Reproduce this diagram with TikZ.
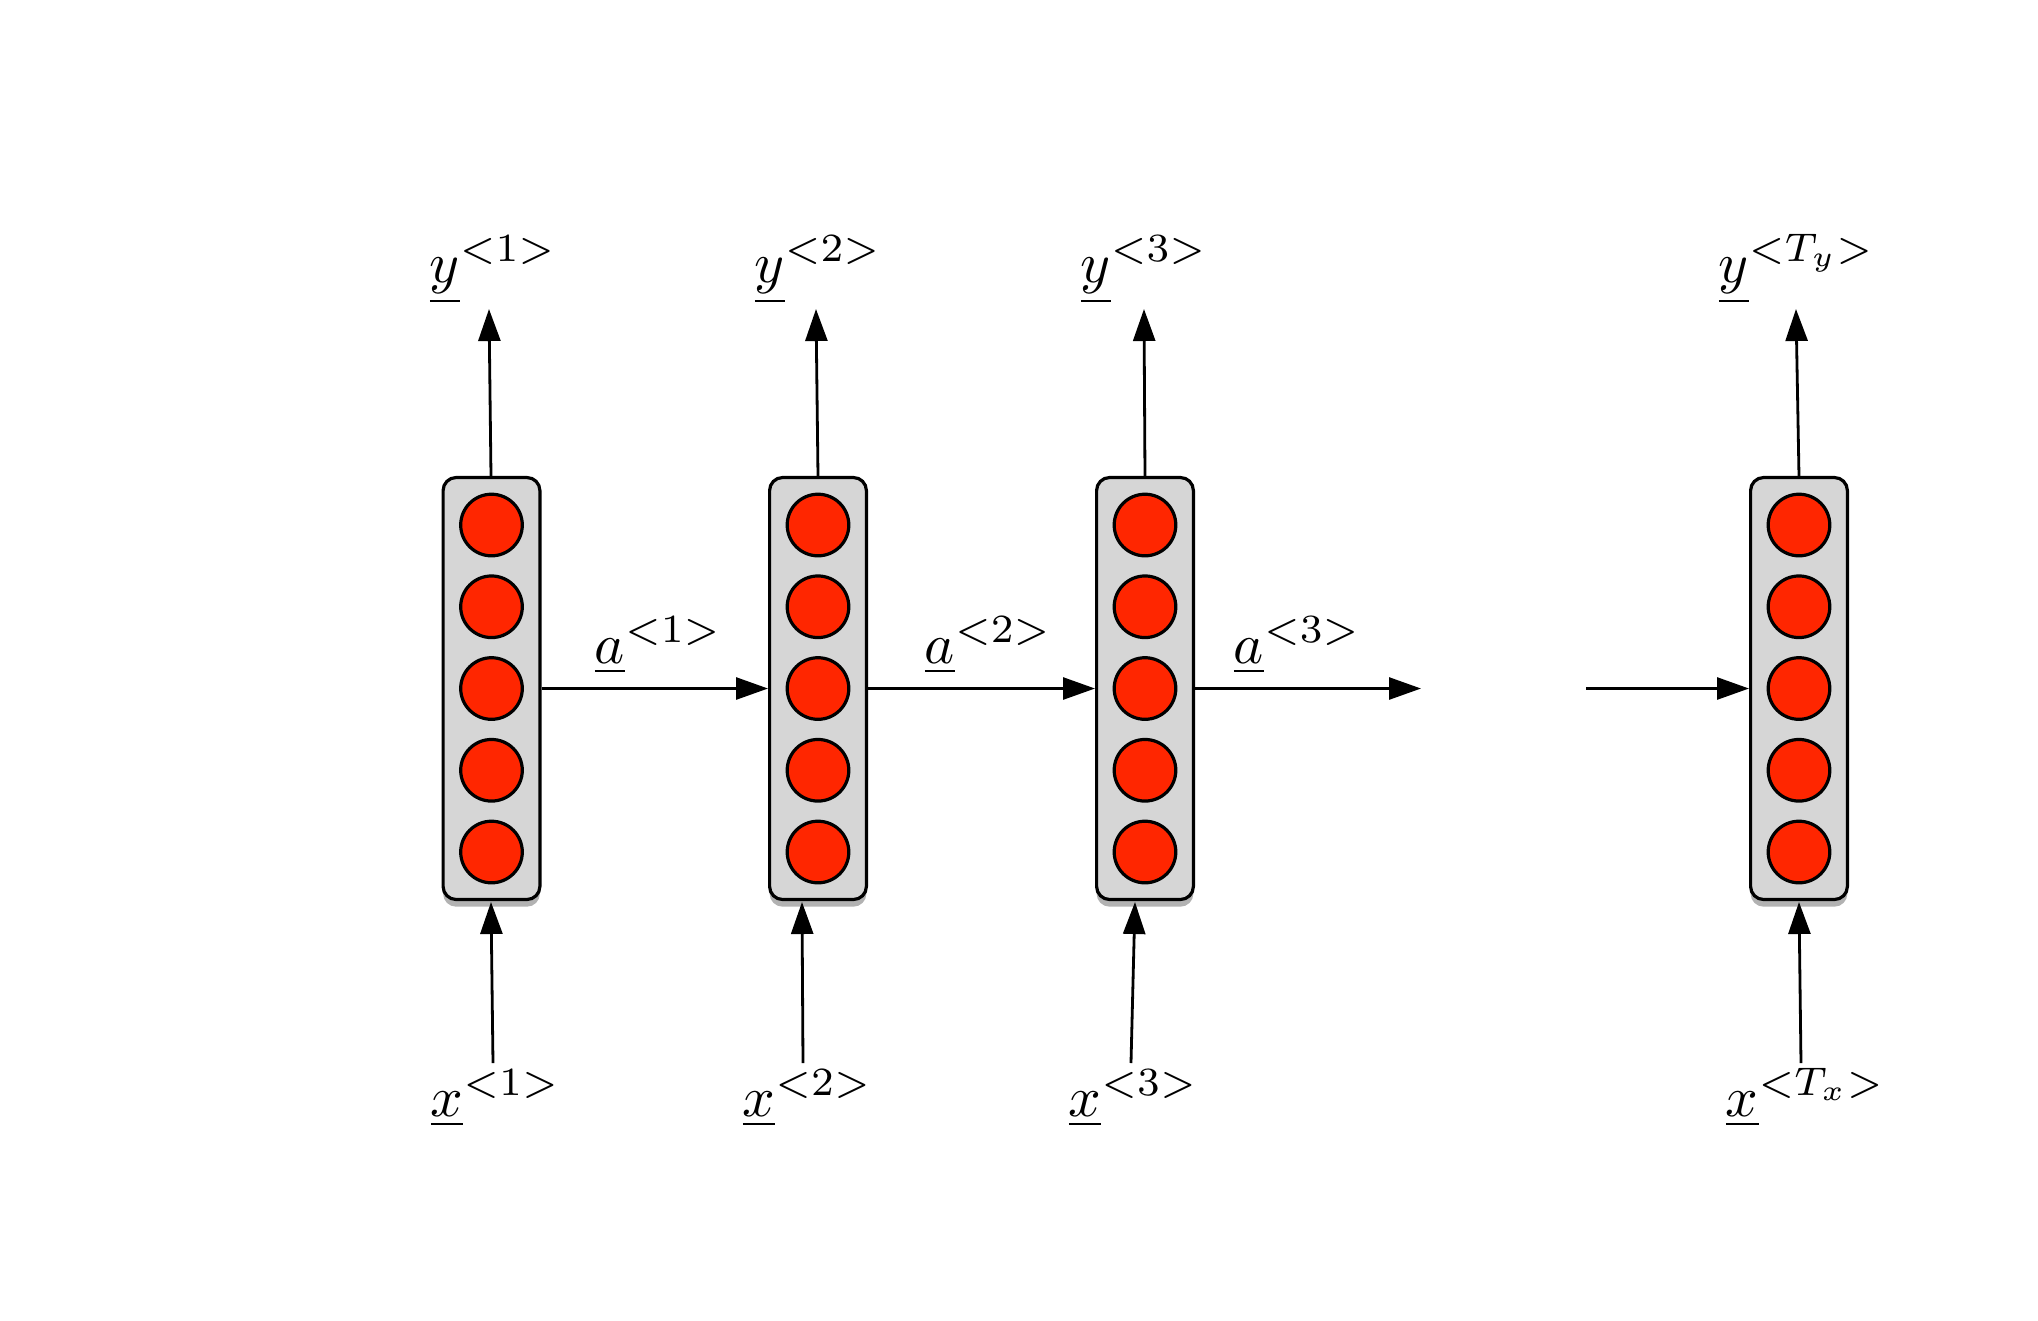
\documentclass[tikz,border=0pt]{standalone}
\usepackage{graphicx}
\usetikzlibrary{arrows.meta,shadows}
\definecolor{cellred}{RGB}{255,38,0}
\definecolor{boxgray}{RGB}{214,214,214}
\newcommand{\lbltext}[1]{\scalebox{1.43}{$#1$}}
\begin{document}
\begin{tikzpicture}[x=0.25pt,y=-0.25pt,
  cellbox/.style={draw=black,line width=0.8pt,fill=boxgray,rounded corners=3.25pt,
    minimum width=24.2pt,minimum height=105.5pt,inner sep=0pt,
    drop shadow={shadow xshift=0pt,shadow yshift=-1.8pt,opacity=0.3,fill=black}},
  neuron/.style={circle,draw=black,line width=0.8pt,fill=cellred,minimum size=15.4pt,inner sep=0pt},
  lbl/.style={anchor=base west,inner sep=0pt,font=\normalsize},
  conn/.style={line width=0.7pt,-{Triangle[length=8pt,width=5.5pt]}}]
\useasboundingbox (0,0) rectangle (2038,1320);
% cells
\foreach \n/\cx in {1/491.5,2/818,3/1145,4/1799}{
  \node[cellbox] (b\n) at (\cx,688.5) {};
  \foreach \k/\dy in {1/-163.5,2/-81.75,3/0,4/81.75,5/163.5}{
    \node[neuron] (b\n c\k) at (\cx,{688.5+\dy}) {};
  }
}
% labels
\node[lbl] (y1) at (429,282) {\lbltext{\underline{y}^{<1>}}};
\node[lbl] (y2) at (754,282) {\lbltext{\underline{y}^{<2>}}};
\node[lbl] (y3) at (1080,282) {\lbltext{\underline{y}^{<3>}}};
\node[lbl] (y4) at (1718,282) {\lbltext{\underline{y}^{<T_y>}}};
\node[lbl] (x1) at (430,1116) {\lbltext{\underline{x}^{<1>}}};
\node[lbl] (x2) at (742,1116) {\lbltext{\underline{x}^{<2>}}};
\node[lbl] (x3) at (1068,1116) {\lbltext{\underline{x}^{<3>}}};
\node[lbl] (x4) at (1725,1116) {\lbltext{\underline{x}^{<T_x>}}};
\node[lbl] (a1) at (594,663) {\lbltext{\underline{a}^{<1>}}};
\node[lbl] (a2) at (924,663) {\lbltext{\underline{a}^{<2>}}};
\node[lbl] (a3) at (1233,663) {\lbltext{\underline{a}^{<3>}}};
% arrow end points
\coordinate (u1s) at (491,476);  \coordinate (u1e) at (489,309);
\coordinate (u2s) at (818,476);  \coordinate (u2e) at (816,309);
\coordinate (u3s) at (1145,476); \coordinate (u3e) at (1144,309);
\coordinate (u4s) at (1799,476); \coordinate (u4e) at (1796,309);
\coordinate (d1s) at (493,1063);  \coordinate (d1e) at (491,902);
\coordinate (d2s) at (803,1063);  \coordinate (d2e) at (802,902);
\coordinate (d3s) at (1131,1063); \coordinate (d3e) at (1135,902);
\coordinate (d4s) at (1801,1063); \coordinate (d4e) at (1799,902);
\coordinate (h3e) at (1421,688.5);
\coordinate (h4s) at (1586,688.5);
% connectors
\foreach \i in {1,2,3,4}{
  \draw[conn] (u\i s) -- (u\i e);
  \draw[conn] (d\i s) -- (d\i e);
}
\draw[conn] (b1.east) -- (b2.west);
\draw[conn] (b2.east) -- (b3.west);
\draw[conn] (b3.east) -- (h3e);
\draw[conn] (h4s) -- (b4.west);
\end{tikzpicture}
\end{document}
